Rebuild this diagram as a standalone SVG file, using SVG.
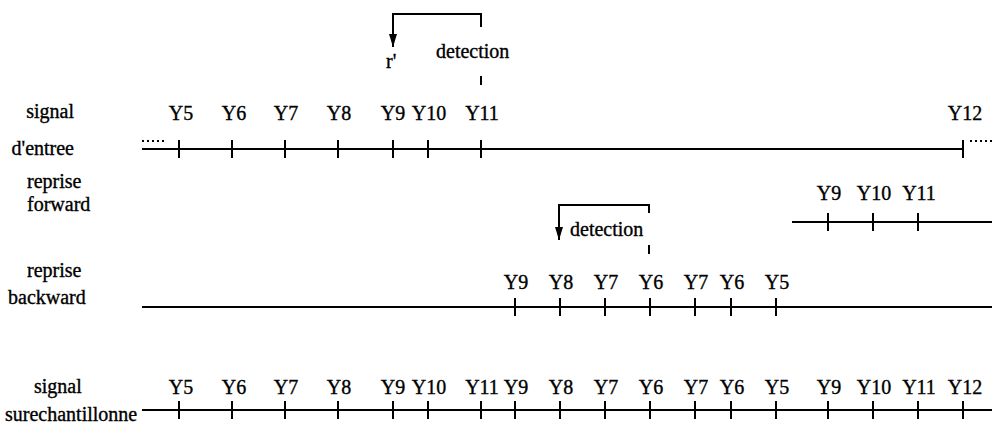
<svg xmlns="http://www.w3.org/2000/svg" width="992" height="426" viewBox="0 0 992 426">
<defs>
<style>
text { font-family: "Liberation Serif", "Times New Roman", serif; font-size: 20px; fill: #000; stroke: #000; stroke-width: 0.35; }
.y { text-anchor: middle; }
.ln { stroke: #000; stroke-width: 2; fill: none; }
.tk { stroke: #000; stroke-width: 2; fill: none; }
.dot { stroke: #000; stroke-width: 2; stroke-dasharray: 2 3; fill: none; }
</style>
<marker id="ah" markerWidth="13" markerHeight="8" refX="13" refY="4" orient="auto" markerUnits="userSpaceOnUse" viewBox="0 0 13 8">
<path d="M0,0 L13,4 L0,8 Z" fill="#000"/>
</marker>
</defs>
<rect width="992" height="426" fill="#fff"/>

<g id="labels">
<text x="74" y="118" text-anchor="end">signal</text>
<text x="74" y="155" text-anchor="end">d'entree</text>
<text x="27" y="188">reprise</text>
<text x="27" y="211">forward</text>
<text x="27" y="277">reprise</text>
<text x="8" y="304">backward</text>
<text x="34" y="393">signal</text>
<text x="5" y="421">surechantillonne</text>
</g>

<g id="row-entree">
<line class="ln" x1="142" y1="149" x2="963" y2="149"/>
<line class="dot" x1="142" y1="141" x2="164" y2="141"/>
<line class="dot" x1="970" y1="141" x2="992" y2="141"/>
<path class="tk" d="M179,140V158M232,140V158M285,140V158M338,140V158M393,140V158M428,140V158M481,140V158M963,140V158"/>
<text class="y" x="181" y="120">Y5</text>
<text class="y" x="234" y="120">Y6</text>
<text class="y" x="286" y="120">Y7</text>
<text class="y" x="339" y="120">Y8</text>
<text class="y" x="393" y="120">Y9</text>
<text class="y" x="429" y="120">Y10</text>
<text class="y" x="482" y="120">Y11</text>
<text class="y" x="965" y="120">Y12</text>
</g>

<g id="row-forward">
<line class="ln" x1="792" y1="222" x2="992" y2="222"/>
<path class="tk" d="M828,213V231M873,213V231M918,213V231"/>
<text class="y" x="829" y="200">Y9</text>
<text class="y" x="874" y="200">Y10</text>
<text class="y" x="919" y="200">Y11</text>
</g>

<g id="row-backward">
<line class="ln" x1="142" y1="307" x2="992" y2="307"/>
<path class="tk" d="M515,298V316M560,298V316M605,298V316M650,298V316M695,298V316M731,298V316M776,298V316"/>
<text class="y" x="516" y="289">Y9</text>
<text class="y" x="561" y="289">Y8</text>
<text class="y" x="606" y="289">Y7</text>
<text class="y" x="651" y="289">Y6</text>
<text class="y" x="696" y="289">Y7</text>
<text class="y" x="732" y="289">Y6</text>
<text class="y" x="777" y="289">Y5</text>
</g>

<g id="row-surechantillonne">
<line class="ln" x1="142" y1="410" x2="992" y2="410"/>
<path class="tk" d="M179,401V419M232,401V419M285,401V419M338,401V419M393,401V419M428,401V419M481,401V419M515,401V419M560,401V419M605,401V419M650,401V419M695,401V419M731,401V419M776,401V419M828,401V419M873,401V419M918,401V419M963,401V419"/>
<text class="y" x="181" y="394">Y5</text>
<text class="y" x="234" y="394">Y6</text>
<text class="y" x="286" y="394">Y7</text>
<text class="y" x="339" y="394">Y8</text>
<text class="y" x="393" y="394">Y9</text>
<text class="y" x="429" y="394">Y10</text>
<text class="y" x="482" y="394">Y11</text>
<text class="y" x="516" y="394">Y9</text>
<text class="y" x="561" y="394">Y8</text>
<text class="y" x="606" y="394">Y7</text>
<text class="y" x="651" y="394">Y6</text>
<text class="y" x="696" y="394">Y7</text>
<text class="y" x="732" y="394">Y6</text>
<text class="y" x="777" y="394">Y5</text>
<text class="y" x="829" y="394">Y9</text>
<text class="y" x="874" y="394">Y10</text>
<text class="y" x="919" y="394">Y11</text>
<text class="y" x="965" y="394">Y12</text>
</g>

<g id="connectors">
<path class="ln" d="M481,27V14H393V47" marker-end="url(#ah)"/>
<line class="ln" x1="481" y1="76" x2="481" y2="85"/>
<path class="ln" d="M649,213V205H559V240" marker-end="url(#ah)"/>
<line class="ln" x1="649" y1="245" x2="649" y2="254"/>
</g>

<g id="annotations">
<text x="386" y="68">r'</text>
<text x="436" y="58">detection</text>
<text x="570" y="236">detection</text>
</g>
</svg>
